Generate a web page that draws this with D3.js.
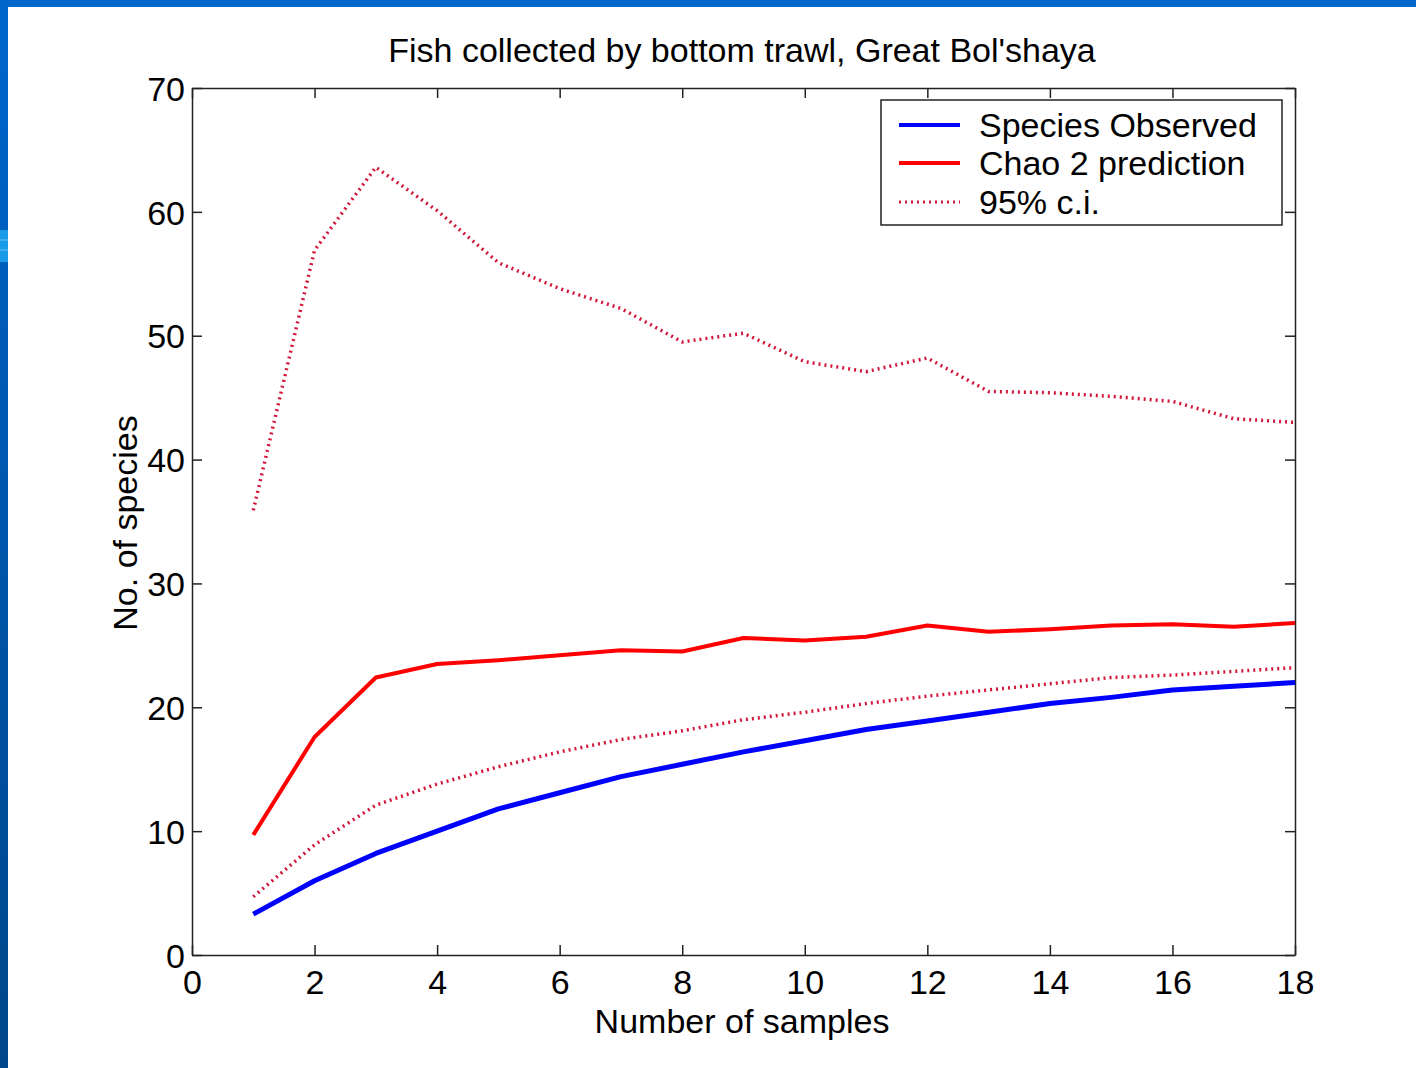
<!DOCTYPE html>
<html>
<head>
<meta charset="utf-8">
<script src="https://cdn.jsdelivr.net/npm/d3@7"></script>
<style>
  html, body { margin: 0; padding: 0; background: #fff; }
  svg { display: block; }
  text { font-family: "Liberation Sans", Arial, sans-serif; fill: #000; }
</style>
</head>
<body>
<svg id="chart" width="1416" height="1068"></svg>
<script>
// Number of samples pooled
const samples = [1, 2, 3, 4, 5, 6, 7, 8, 9, 10, 11, 12, 13, 14, 15, 16, 17, 18];
// Species accumulation
const observed = [3.3, 6.0, 8.2, 10.0, 11.8, 13.1, 14.4, 15.4, 16.4, 17.3, 18.2, 18.9, 19.6, 20.3, 20.8, 21.4, 21.7, 22.0];
// Chao 2 richness estimator
const chao2 = [9.7, 17.6, 22.4, 23.5, 23.8, 24.2, 24.6, 24.5, 25.6, 25.4, 25.7, 26.6, 26.1, 26.3, 26.6, 26.7, 26.5, 26.8];
// 95% confidence limits for Chao 2
const ciLower = [4.7, 8.9, 12.1, 13.8, 15.2, 16.4, 17.4, 18.1, 19.0, 19.6, 20.3, 20.9, 21.4, 21.9, 22.4, 22.6, 22.9, 23.2];
const ciUpper = [35.9, 56.9, 63.6, 60.1, 55.9, 53.8, 52.2, 49.5, 50.2, 47.9, 47.1, 48.2, 45.5, 45.4, 45.1, 44.7, 43.3, 43.0];
// Axis ticks
const xTicks = [0, 2, 4, 6, 8, 10, 12, 14, 16, 18];
const yTicks = [0, 10, 20, 30, 40, 50, 60, 70];
const legendLabels = ["Species Observed", "Chao 2 prediction", "95% c.i."];

const svg = d3.select("#chart");
const W = 1416, H = 1068;

// Slide frame: blue strip along the top and left edges
const grad = svg.append("defs").append("linearGradient")
  .attr("id", "sideGrad").attr("x1", 0).attr("y1", 0).attr("x2", 0).attr("y2", 1);
grad.append("stop").attr("offset", "0%").attr("stop-color", "#0066cc");
grad.append("stop").attr("offset", "100%").attr("stop-color", "#00468a");
svg.append("rect").attr("x", 0).attr("y", 0).attr("width", W).attr("height", 7).attr("fill", "#0066cc");
svg.append("rect").attr("x", 0).attr("y", 0).attr("width", 8).attr("height", H).attr("fill", "url(#sideGrad)");
svg.append("rect").attr("x", 0).attr("y", 230).attr("width", 8).attr("height", 32).attr("fill", "#1a9be8");
[240, 250].forEach(yy => svg.append("line").attr("x1", 0).attr("x2", 8).attr("y1", yy).attr("y2", yy)
  .attr("stroke", "#6cc4f5").attr("stroke-width", 1));

const m = { left: 192, right: 1295, top: 88, bottom: 955 };
const x = d3.scaleLinear().domain([0, 18]).range([m.left, m.right]);
const y = d3.scaleLinear().domain([0, 70]).range([m.bottom, m.top]);

const axisColor = "#222";
const tickLen = 10;
const fontMain = "34px";

// Axes with inward ticks on all four sides (boxed plot)
const axBottom = svg.append("g").attr("transform", `translate(0,${m.bottom})`)
  .call(d3.axisBottom(x).tickValues(xTicks).tickSizeInner(-tickLen).tickSizeOuter(0).tickPadding(15));
const axTop = svg.append("g").attr("transform", `translate(0,${m.top})`)
  .call(d3.axisTop(x).tickValues(xTicks).tickSizeInner(-tickLen).tickSizeOuter(0).tickFormat(""));
const axLeft = svg.append("g").attr("transform", `translate(${m.left},0)`)
  .call(d3.axisLeft(y).tickValues(yTicks).tickSizeInner(-tickLen).tickSizeOuter(0).tickPadding(7));
const axRight = svg.append("g").attr("transform", `translate(${m.right},0)`)
  .call(d3.axisRight(y).tickValues(yTicks).tickSizeInner(-tickLen).tickSizeOuter(0).tickFormat(""));

[axBottom, axTop, axLeft, axRight].forEach(g => {
  g.select(".domain").attr("stroke", axisColor).attr("stroke-width", 1.5);
  g.selectAll(".tick line").attr("stroke", axisColor).attr("stroke-width", 1.5);
  g.selectAll(".tick text").style("font-family", '"Liberation Sans", Arial, sans-serif')
    .style("font-size", fontMain).attr("fill", "#000");
});
axBottom.selectAll(".tick text").attr("dy", "0.71em");
axLeft.selectAll(".tick text").attr("dy", "0.36em");

// Titles
svg.append("text").attr("x", 742).attr("y", 62).attr("text-anchor", "middle")
  .style("font-size", fontMain).text("Fish collected by bottom trawl, Great Bol'shaya");
svg.append("text").attr("x", 742).attr("y", 1033).attr("text-anchor", "middle")
  .style("font-size", fontMain).text("Number of samples");
svg.append("text").attr("transform", "translate(137,523) rotate(-90)").attr("text-anchor", "middle")
  .style("font-size", fontMain).text("No. of species");

// Series
const line = d3.line().x((d, i) => x(samples[i])).y(d => y(d));
const ciColor = "#d3173a";
const ciDash = "2,4";
const ciStyle = g => g.attr("fill", "none").attr("stroke", ciColor).attr("stroke-width", 3.5)
  .attr("stroke-dasharray", ciDash);

svg.append("path").datum(ciUpper).attr("d", line).call(ciStyle);
svg.append("path").datum(ciLower).attr("d", line).call(ciStyle);
svg.append("path").datum(chao2).attr("d", line)
  .attr("fill", "none").attr("stroke", "#ff0000").attr("stroke-width", 4).attr("stroke-linejoin", "round");
svg.append("path").datum(observed).attr("d", line)
  .attr("fill", "none").attr("stroke", "#0000ff").attr("stroke-width", 5).attr("stroke-linejoin", "round");

// Legend
const lg = svg.append("g");
lg.append("rect").attr("x", 881).attr("y", 100).attr("width", 401).attr("height", 125)
  .attr("fill", "#fff").attr("stroke", axisColor).attr("stroke-width", 1.5);
const legendStyles = [
  { stroke: "#0000ff", width: 4, dash: null },
  { stroke: "#ff0000", width: 4, dash: null },
  { stroke: ciColor, width: 3, dash: ciDash }
];
const rowY = [125, 163, 202];
legendLabels.forEach((lab, i) => {
  const s = legendStyles[i];
  const ln = lg.append("line").attr("x1", 899).attr("x2", 960).attr("y1", rowY[i]).attr("y2", rowY[i])
    .attr("stroke", s.stroke).attr("stroke-width", s.width);
  if (s.dash) ln.attr("stroke-dasharray", s.dash);
  lg.append("text").attr("x", 979).attr("y", rowY[i]).attr("dy", "0.36em")
    .style("font-size", fontMain).text(lab);
});
</script>
</body>
</html>
